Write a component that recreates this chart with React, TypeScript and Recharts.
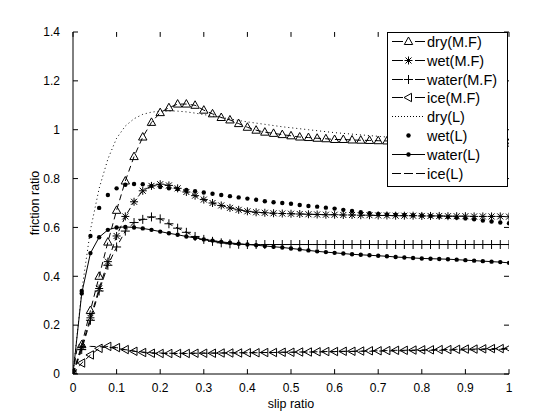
import React from 'react';
import { LineChart, Line, XAxis, YAxis, Legend, ReferenceLine } from 'recharts';

const FONT = '"Liberation Sans", Arial, Helvetica, sans-serif';

const slipRatio = [0, 0.01, 0.02, 0.04, 0.06, 0.08, 0.1, 0.12, 0.14, 0.16, 0.18, 0.2, 0.22, 0.24, 0.26, 0.28, 0.3, 0.32, 0.34, 0.36, 0.38, 0.4, 0.42, 0.44, 0.46, 0.48, 0.5, 0.52, 0.54, 0.56, 0.58, 0.6, 0.62, 0.64, 0.66, 0.68, 0.7, 0.72, 0.74, 0.76, 0.78, 0.8, 0.82, 0.84, 0.86, 0.88, 0.9, 0.92, 0.94, 0.96, 0.98, 1];

const dryMF = [0, null, 0.12, 0.26, 0.40, 0.54, 0.67, 0.79, 0.89, 0.97, 1.03, 1.07, 1.09, 1.105, 1.105, 1.10, 1.08, 1.065, 1.05, 1.04, 1.025, 1.01, 0.998, 0.99, 0.985, 0.98, 0.975, 0.97, 0.968, 0.965, 0.963, 0.96, 0.96, 0.958, 0.957, 0.956, 0.955, 0.954, 0.953, 0.952, 0.951, 0.95, 0.95, 0.949, 0.949, 0.948, 0.948, 0.947, 0.947, 0.946, 0.946, 0.945];
const wetMF = [0, null, 0.11, 0.23, 0.35, 0.46, 0.565, 0.645, 0.705, 0.75, 0.77, 0.777, 0.772, 0.76, 0.745, 0.73, 0.714, 0.70, 0.69, 0.68, 0.672, 0.666, 0.662, 0.66, 0.658, 0.657, 0.656, 0.655, 0.654, 0.653, 0.652, 0.652, 0.651, 0.651, 0.65, 0.65, 0.649, 0.649, 0.648, 0.648, 0.648, 0.647, 0.647, 0.647, 0.646, 0.646, 0.646, 0.645, 0.645, 0.645, 0.645, 0.644];
const waterMF = [0, null, 0.10, 0.22, 0.34, 0.445, 0.52, 0.585, 0.62, 0.633, 0.643, 0.635, 0.615, 0.597, 0.58, 0.563, 0.551, 0.543, 0.537, 0.533, 0.531, 0.53, 0.53, 0.53, 0.53, 0.53, 0.53, 0.53, 0.53, 0.53, 0.53, 0.53, 0.53, 0.53, 0.53, 0.53, 0.53, 0.53, 0.53, 0.53, 0.53, 0.53, 0.53, 0.53, 0.53, 0.53, 0.53, 0.53, 0.53, 0.53, 0.53, 0.53];
const iceMF = [0, null, 0.045, 0.078, 0.105, 0.113, 0.108, 0.10, 0.093, 0.088, 0.085, 0.084, 0.084, 0.084, 0.084, 0.085, 0.085, 0.085, 0.086, 0.086, 0.086, 0.087, 0.087, 0.088, 0.088, 0.089, 0.089, 0.09, 0.09, 0.091, 0.092, 0.092, 0.093, 0.093, 0.094, 0.095, 0.095, 0.096, 0.097, 0.097, 0.098, 0.099, 0.099, 0.1, 0.1, 0.101, 0.102, 0.102, 0.103, 0.104, 0.104, 0.105];
const dryL = [0, 0.17, 0.34, 0.59, 0.76, 0.88, 0.965, 1.015, 1.045, 1.063, 1.072, 1.076, 1.077, 1.076, 1.073, 1.068, 1.062, 1.056, 1.05, 1.044, 1.038, 1.032, 1.027, 1.022, 1.017, 1.012, 1.008, 1.004, 1.0, 0.996, 0.992, 0.988, 0.985, 0.982, 0.979, 0.976, 0.973, 0.97, 0.968, 0.966, 0.964, 0.962, 0.96, 0.958, 0.956, 0.954, 0.952, 0.95, 0.948, 0.946, 0.944, 0.942];
const wetL = [0, null, 0.34, 0.565, 0.68, 0.733, 0.76, 0.775, 0.778, 0.777, 0.77, 0.765, 0.76, 0.757, 0.753, 0.748, 0.743, 0.738, 0.733, 0.728, 0.723, 0.718, 0.713, 0.707, 0.703, 0.70, 0.697, 0.692, 0.688, 0.685, 0.681, 0.677, 0.672, 0.667, 0.662, 0.658, 0.655, 0.653, 0.652, 0.651, 0.65, 0.649, 0.647, 0.645, 0.643, 0.64, 0.637, 0.633, 0.628, 0.624, 0.62, 0.617];
const waterL = [0, null, 0.33, 0.495, 0.56, 0.59, 0.60, 0.602, 0.60, 0.596, 0.59, 0.583, 0.576, 0.57, 0.563, 0.557, 0.551, 0.546, 0.541, 0.537, 0.533, 0.53, 0.527, 0.524, 0.521, 0.518, 0.514, 0.51, 0.506, 0.502, 0.499, 0.496, 0.493, 0.49, 0.488, 0.486, 0.484, 0.482, 0.479, 0.477, 0.475, 0.473, 0.472, 0.471, 0.47, 0.468, 0.466, 0.464, 0.462, 0.46, 0.458, 0.455];
const iceL = [0, 0.112, 0.113, 0.113, 0.112, 0.11, 0.105, 0.099, 0.094, 0.09, 0.087, 0.086, 0.085, 0.085, 0.085, 0.085, 0.086, 0.086, 0.086, 0.087, 0.087, 0.087, 0.088, 0.088, 0.088, 0.089, 0.089, 0.09, 0.09, 0.09, 0.091, 0.091, 0.092, 0.092, 0.093, 0.093, 0.094, 0.094, 0.095, 0.095, 0.096, 0.096, 0.097, 0.097, 0.098, 0.098, 0.099, 0.099, 0.1, 0.1, 0.101, 0.101];

const xTicks = [0, 0.1, 0.2, 0.3, 0.4, 0.5, 0.6, 0.7, 0.8, 0.9, 1];
const yTicks = [0, 0.2, 0.4, 0.6, 0.8, 1, 1.2, 1.4];

const seriesNames = ['dry(M.F)', 'wet(M.F)', 'water(M.F)', 'ice(M.F)', 'dry(L)', 'wet(L)', 'water(L)', 'ice(L)'];

const X_MIN = 0;
const X_MAX = 1;
const Y_MIN = 0;
const Y_MAX = 1.4;
// inward tick length expressed in axis units (about 5 px)
const X_TICK_LEN = 0.0115;
const Y_TICK_LEN = 0.02;

const data = slipRatio.map((x, i) => ({
  x,
  dryMF: dryMF[i],
  wetMF: wetMF[i],
  waterMF: waterMF[i],
  iceMF: iceMF[i],
  dryL: dryL[i],
  wetL: wetL[i],
  waterL: waterL[i],
  iceL: iceL[i],
}));

type Kind = 'triUp' | 'star' | 'plus' | 'triLeft' | 'dot' | 'none';

function markerShape(kind: Kind, cx: number, cy: number, key?: any) {
  const s = { stroke: '#000', strokeWidth: 1, fill: 'none' } as any;
  switch (kind) {
    case 'triUp':
      return <path key={key} d={`M${cx},${cy - 4.5}L${cx - 4.2},${cy + 3}L${cx + 4.2},${cy + 3}Z`} {...s} />;
    case 'triLeft':
      return <path key={key} d={`M${cx - 4.5},${cy}L${cx + 3},${cy - 4.2}L${cx + 3},${cy + 4.2}Z`} {...s} />;
    case 'plus':
      return <path key={key} d={`M${cx - 4.5},${cy}H${cx + 4.5}M${cx},${cy - 4.5}V${cy + 4.5}`} {...s} />;
    case 'star':
      return <path key={key} d={`M${cx - 4},${cy}H${cx + 4}M${cx},${cy - 4}V${cy + 4}M${cx - 3},${cy - 3}L${cx + 3},${cy + 3}M${cx - 3},${cy + 3}L${cx + 3},${cy - 3}`} {...s} />;
    case 'dot':
      return <circle key={key} cx={cx} cy={cy} r={2.2} fill="#000" stroke="none" />;
    default:
      return <g key={key} />;
  }
}

function makeDot(kind: Kind) {
  return (p: any) => {
    const k = `${kind}-${p.index}`;
    if (p.cx == null || p.cy == null || p.value == null || (Array.isArray(p.value) && p.value[1] == null)) return <g key={k} />;
    return markerShape(kind, p.cx, p.cy, k);
  };
}

const legendRows: { name: string; dash: 'dashed' | 'dotted' | 'solid' | 'none' | 'dashed3'; marker: Kind }[] = [
  { name: seriesNames[0], dash: 'dashed', marker: 'triUp' },
  { name: seriesNames[1], dash: 'dashed', marker: 'star' },
  { name: seriesNames[2], dash: 'dashed', marker: 'plus' },
  { name: seriesNames[3], dash: 'dashed', marker: 'triLeft' },
  { name: seriesNames[4], dash: 'dotted', marker: 'none' },
  { name: seriesNames[5], dash: 'none', marker: 'dot' },
  { name: seriesNames[6], dash: 'solid', marker: 'dot' },
  { name: seriesNames[7], dash: 'dashed3', marker: 'none' },
];

function LegendBox() {
  const W = 121;
  const H = 155;
  return (
    <svg width={W} height={H} style={{ display: 'block' }}>
      <rect x={0.5} y={0.5} width={W - 1} height={H - 1} fill="#fff" stroke="#000" strokeWidth={1} />
      {legendRows.map((r, i) => {
        const y = Math.round(9 + i * 18.8) + 0.5;
        const x0 = 5;
        const x1 = 38;
        const mid = 21.5;
        let line: any = null;
        if (r.dash === 'dashed') {
          line = (
            <g stroke="#000" strokeWidth={1}>
              <line x1={x0} x2={16} y1={y} y2={y} />
              <line x1={28} x2={x1} y1={y} y2={y} />
            </g>
          );
        } else if (r.dash === 'dotted') {
          line = <line x1={x0} x2={x1} y1={y} y2={y} stroke="#000" strokeWidth={1} strokeDasharray="1 2" />;
        } else if (r.dash === 'solid') {
          line = <line x1={x0} x2={x1} y1={y} y2={y} stroke="#000" strokeWidth={1} />;
        } else if (r.dash === 'dashed3') {
          line = (
            <g stroke="#000" strokeWidth={1}>
              <line x1={x0} x2={14} y1={y} y2={y} />
              <line x1={17} x2={26} y1={y} y2={y} />
              <line x1={29} x2={x1} y1={y} y2={y} />
            </g>
          );
        }
        return (
          <g key={r.name}>
            {line}
            {markerShape(r.marker, mid, y)}
            <text x={40} y={y + 5} fontSize={14.5} fontFamily={FONT} fill="#000">{r.name}</text>
          </g>
        );
      })}
    </svg>
  );
}

const axisTextStyle = { fill: '#000', fontSize: 12, fontFamily: FONT };

export default function App() {
  return (
    <div style={{ width: 552, height: 412, background: '#fff' }}>
      <LineChart width={552} height={412} data={data} margin={{ top: 24, right: 51, bottom: 0, left: 0 }}>
        <XAxis
          dataKey="x"
          type="number"
          domain={[X_MIN, X_MAX]}
          ticks={xTicks}
          allowDataOverflow
          height={46}
          stroke="#000"
          tickLine={false}
          tickSize={0}
          tickMargin={9}
          tick={axisTextStyle}
          tickFormatter={(v: number) => String(v)}
          label={{
            content: (p: any) => {
              const vb = p.viewBox;
              return (
                <text x={vb.x + vb.width / 2} y={vb.y + 33.5} textAnchor="middle" fontSize={12.5} fontFamily={FONT} fill="#000">
                  slip ratio
                </text>
              );
            },
          }}
        />
        <XAxis
          xAxisId="top"
          orientation="top"
          dataKey="x"
          type="number"
          domain={[X_MIN, X_MAX]}
          ticks={xTicks}
          allowDataOverflow
          height={0}
          stroke="#000"
          tickLine={false}
          tick={false as any}
        />
        <YAxis
          type="number"
          domain={[Y_MIN, Y_MAX]}
          ticks={yTicks}
          allowDataOverflow
          width={65}
          stroke="#000"
          tickLine={false}
          tickSize={0}
          tickMargin={13}
          tick={axisTextStyle}
          tickFormatter={(v: number) => String(v)}
          label={{
            content: (p: any) => {
              const vb = p.viewBox;
              const cx = 31;
              const cy = vb.y + vb.height / 2;
              return (
                <text x={cx} y={cy} transform={`rotate(-90, ${cx}, ${cy})`} textAnchor="middle" fontSize={12.5} fontFamily={FONT} fill="#000">
                  friction ratio
                </text>
              );
            },
          }}
        />
        <YAxis
          yAxisId="right"
          orientation="right"
          type="number"
          domain={[Y_MIN, Y_MAX]}
          ticks={yTicks}
          allowDataOverflow
          width={0}
          stroke="#000"
          tickLine={false}
          tick={false as any}
        />
        {xTicks.map((t) => (
          <ReferenceLine key={`xb-${t}`} segment={[{ x: t, y: Y_MIN }, { x: t, y: Y_MIN + Y_TICK_LEN }]} stroke="#000" strokeWidth={1} ifOverflow="visible" />
        ))}
        {xTicks.map((t) => (
          <ReferenceLine key={`xt-${t}`} segment={[{ x: t, y: Y_MAX }, { x: t, y: Y_MAX - Y_TICK_LEN }]} stroke="#000" strokeWidth={1} ifOverflow="visible" />
        ))}
        {yTicks.map((t) => (
          <ReferenceLine key={`yl-${t}`} segment={[{ x: X_MIN, y: t }, { x: X_MIN + X_TICK_LEN, y: t }]} stroke="#000" strokeWidth={1} ifOverflow="visible" />
        ))}
        {yTicks.map((t) => (
          <ReferenceLine key={`yr-${t}`} segment={[{ x: X_MAX, y: t }, { x: X_MAX - X_TICK_LEN, y: t }]} stroke="#000" strokeWidth={1} ifOverflow="visible" />
        ))}
        <Line dataKey="dryMF" name={seriesNames[0]} stroke="#000" strokeWidth={1} strokeDasharray="6 4" dot={makeDot('triUp')} activeDot={false} isAnimationActive={false} connectNulls />
        <Line dataKey="wetMF" name={seriesNames[1]} stroke="#000" strokeWidth={1} strokeDasharray="6 4" dot={makeDot('star')} activeDot={false} isAnimationActive={false} connectNulls />
        <Line dataKey="waterMF" name={seriesNames[2]} stroke="#000" strokeWidth={1} strokeDasharray="6 4" dot={makeDot('plus')} activeDot={false} isAnimationActive={false} connectNulls />
        <Line dataKey="iceMF" name={seriesNames[3]} stroke="#000" strokeWidth={1} strokeDasharray="6 4" dot={makeDot('triLeft')} activeDot={false} isAnimationActive={false} connectNulls />
        <Line dataKey="dryL" name={seriesNames[4]} stroke="#000" strokeWidth={1} strokeDasharray="1 3" dot={false} activeDot={false} isAnimationActive={false} connectNulls />
        <Line dataKey="wetL" name={seriesNames[5]} stroke="none" strokeWidth={0} dot={makeDot('dot')} activeDot={false} isAnimationActive={false} connectNulls />
        <Line dataKey="waterL" name={seriesNames[6]} stroke="#000" strokeWidth={1} dot={makeDot('dot')} activeDot={false} isAnimationActive={false} connectNulls />
        <Line dataKey="iceL" name={seriesNames[7]} stroke="#000" strokeWidth={1} strokeDasharray="6 4" dot={false} activeDot={false} isAnimationActive={false} connectNulls />
        <Legend
          layout="vertical"
          align="center"
          verticalAlign="middle"
          wrapperStyle={{ left: 379, top: 24, width: 121, height: 155 }}
          content={() => <LegendBox />}
        />
      </LineChart>
    </div>
  );
}
